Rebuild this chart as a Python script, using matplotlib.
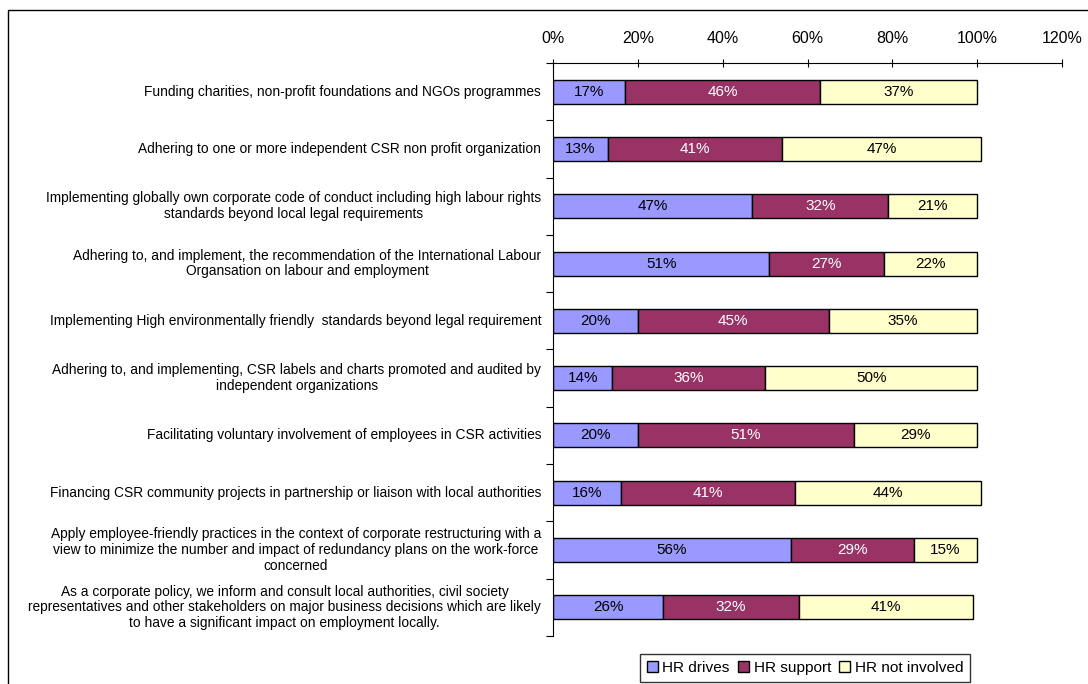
import matplotlib.pyplot as plt
import matplotlib.patches as mpatches
import numpy as np

plt.rcParams['font.family'] = ['Liberation Sans', 'DejaVu Sans']

statements = [
    "Funding charities, non-profit foundations and NGOs programmes",
    "Adhering to one or more independent CSR non profit organization",
    "Implementing globally own corporate code of conduct including high labour rights\nstandards beyond local legal requirements",
    "Adhering to, and implement, the recommendation of the International Labour\nOrgansation on labour and employment",
    "Implementing High environmentally friendly  standards beyond legal requirement",
    "Adhering to, and implementing, CSR labels and charts promoted and audited by\nindependent organizations",
    "Facilitating voluntary involvement of employees in CSR activities",
    "Financing CSR community projects in partnership or liaison with local authorities",
    "Apply employee-friendly practices in the context of corporate restructuring with a\nview to minimize the number and impact of redundancy plans on the work-force\nconcerned",
    "As a corporate policy, we inform and consult local authorities, civil society\nrepresentatives and other stakeholders on major business decisions which are likely\nto have a significant impact on employment locally.",
]
hr_drives = [17, 13, 47, 51, 20, 14, 20, 16, 56, 26]
hr_support = [46, 41, 32, 27, 45, 36, 51, 41, 29, 32]
hr_not_involved = [37, 47, 21, 22, 35, 50, 29, 44, 15, 41]
series_names = ["HR drives", "HR support", "HR not involved"]
x_ticks = [0, 20, 40, 60, 80, 100, 120]

colors = ["#9999FF", "#993366", "#FFFFCC"]
text_colors = ["black", "white", "black"]

fig = plt.figure(figsize=(10.88, 6.84), dpi=100)
ax = fig.add_axes([0.5083, 0.0702, 0.4678, 0.8377])

# outer chart frame (only top and left edges fall inside the image)
fig.patches.append(mpatches.Rectangle((8 / 1088, -0.1), 1.1, 1.1 - 10 / 684,
                                      transform=fig.transFigure, fill=False,
                                      edgecolor="black", linewidth=1.0))

y = np.arange(len(statements))
left = np.zeros(len(statements))
for vals, name, c, tc in zip([hr_drives, hr_support, hr_not_involved],
                             series_names, colors, text_colors):
    vals = np.array(vals, dtype=float)
    ax.barh(y, vals, left=left, height=0.42, color=c,
            edgecolor="black", linewidth=1.0, label=name)
    for yi, l, v in zip(y, left, vals):
        ax.text(l + v / 2, yi, f"{int(v)}%", ha="center", va="center",
                color=tc, fontsize=11)
    left += vals

ax.set_xlim(0, 120)
ax.set_ylim(len(statements) - 0.5, -0.5)
ax.xaxis.tick_top()
ax.set_xticks(x_ticks)
ax.set_xticklabels([f"{t}%" for t in x_ticks], fontsize=11.5)
ax.tick_params(axis="x", direction="inout", length=6, pad=9)

# category separators as ticks on the left spine
ax.set_yticks(np.arange(len(statements) + 1) - 0.5)
ax.set_yticklabels([])
ax.tick_params(axis="y", direction="out", length=5)
for yi, s in zip(y, statements):
    ax.text(-2.8, yi, s, ha="right", va="center", multialignment="center",
            fontsize=9.9, linespacing=1.15)

for side in ["right", "bottom"]:
    ax.spines[side].set_visible(False)

handles = [mpatches.Patch(facecolor=c, edgecolor="black") for c in colors]
leg = fig.legend(handles, series_names, loc="lower left",
                 bbox_to_anchor=(640 / 1088, 2 / 684), ncol=3, fontsize=11.1,
                 frameon=True, fancybox=False, edgecolor="black",
                 handlelength=0.7, handleheight=0.7, handletextpad=0.3,
                 columnspacing=0.55, borderpad=0.45, borderaxespad=0)
leg.get_frame().set_linewidth(1.0)

fig.savefig("out.png", dpi=100)
